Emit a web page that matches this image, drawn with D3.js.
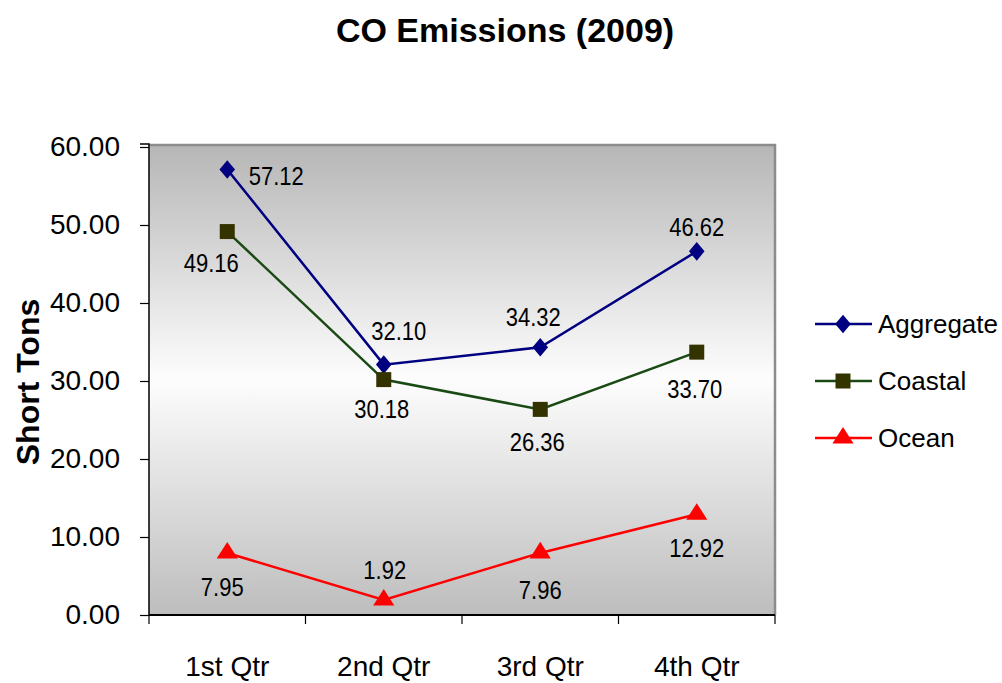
<!DOCTYPE html>
<html><head><meta charset="utf-8">
<script src="https://cdn.jsdelivr.net/npm/d3@7"></script>
<style>body{margin:0;background:#fff;}svg{display:block;font-family:"Liberation Sans",Arial,sans-serif;}</style>
</head><body>
<svg id="chart" width="1002" height="683"></svg>
<script>
const categories = ["1st Qtr","2nd Qtr","3rd Qtr","4th Qtr"];
const aggregate = [57.12, 32.10, 34.32, 46.62];
const coastal = [49.16, 30.18, 26.36, 33.70];
const ocean = [7.95, 1.92, 7.96, 12.92];
const yTicks = [0,10,20,30,40,50,60];
const seriesNames = ["Aggregate","Coastal","Ocean"];
// label centre offsets relative to point
const labelPos = {
  Aggregate: [[49,7],[15,-34],[-7,-30],[0,-24]],
  Coastal: [[-16,31],[-2,29],[-3,33],[-2,37]],
  Ocean: [[-5,34],[1,-30],[0,37],[0,34]]
};

const svg = d3.select("#chart");
const L = 149, R = 775, T = 147, B = 615;
const x = d3.scaleBand().domain(categories).range([L, R]);
const y = d3.scaleLinear().domain([0, 60]).range([B, T]);

const defs = svg.append("defs");
const grad = defs.append("linearGradient").attr("id","bg").attr("x1",0).attr("y1",0).attr("x2",0).attr("y2",1);
grad.append("stop").attr("offset","0%").attr("stop-color","#b6b6b6");
grad.append("stop").attr("offset","50%").attr("stop-color","#fdfdfd");
grad.append("stop").attr("offset","100%").attr("stop-color","#bdbdbd");

svg.append("rect").attr("x", L).attr("y", T-3).attr("width", R-L).attr("height", B-T+3).attr("fill","url(#bg)");
svg.append("line").attr("x1",L).attr("x2",R+1).attr("y1",T-2).attr("y2",T-2).attr("stroke","#8c8c8c").attr("stroke-width",2.5);
svg.append("line").attr("x1",R).attr("x2",R).attr("y1",T-3).attr("y2",B).attr("stroke","#8c8c8c").attr("stroke-width",2.5);

const FONT = "Liberation Sans, Arial, sans-serif";
// y axis
const yAxis = d3.axisLeft(y).tickValues(yTicks).tickFormat(d3.format(".2f")).tickSize(9).tickPadding(20);
const gy = svg.append("g").attr("transform",`translate(${L},0)`).call(yAxis);
gy.select(".domain").attr("stroke","#000").attr("stroke-width",1.5).attr("d",`M-9,${T-3}H0V${B}`);
gy.selectAll(".tick line").attr("stroke","#000").attr("stroke-width",1.2);
gy.selectAll("text").attr("font-size",28).attr("fill","#000").attr("font-family",FONT);

// x axis
const gx = svg.append("g").attr("transform",`translate(0,${B})`);
const xAxis = d3.axisBottom(x).tickSize(0).tickPadding(40);
gx.call(xAxis);
gx.select(".domain").attr("stroke","#000").attr("stroke-width",2).attr("d",`M${L},0H${R}`);
gx.selectAll("text").attr("font-size",28).attr("fill","#000").attr("font-family",FONT).attr("dy",null).attr("y",61);
const bounds = categories.map(c => x(c)).concat([R]);
gx.selectAll(".bt").data(bounds).enter().append("line").attr("class","bt")
  .attr("x1",d=>d).attr("x2",d=>d).attr("y1",0).attr("y2",9).attr("stroke","#000").attr("stroke-width",1.2);

// titles
svg.append("text").attr("x",505).attr("y",42).attr("text-anchor","middle").attr("font-size",34).attr("font-weight","bold").text("CO Emissions (2009)");
svg.append("text").attr("transform","translate(39,382) rotate(-90)").attr("text-anchor","middle").attr("font-size",32).attr("font-weight","bold").text("Short Tons");

const series = [
  {name:"Aggregate", values: aggregate, line:"#000080", fill:"#000080", shape: d3.symbolDiamond, size: 100, sx:1.45},
  {name:"Coastal", values: coastal, line:"#1a4a14", fill:"#333300", shape: d3.symbolSquare, size: 225, sx:1},
  {name:"Ocean", values: ocean, line:"#ff0000", fill:"#ff0000", shape: d3.symbolTriangle, size: 160, sx:1.1}
];

const cx = c => x(c) + x.bandwidth()/2;
const lineGen = d3.line().x((d,i)=>cx(categories[i])).y(d=>y(d));

series.forEach(s => {
  svg.append("path").attr("d", lineGen(s.values)).attr("fill","none").attr("stroke", s.line).attr("stroke-width",2.5);
  s.values.forEach((v,i) => {
    svg.append("path").attr("d", d3.symbol().type(s.shape).size(s.size)())
      .attr("transform",`translate(${cx(categories[i])},${y(v)}) scale(${s.sx},1)`)
      .attr("fill", s.fill);
    const p = labelPos[s.name][i];
    svg.append("text")
      .attr("transform",`translate(${cx(categories[i]) + p[0]},${y(v) + p[1] + 9}) scale(0.88,1)`)
      .attr("text-anchor","middle").attr("font-size",25).attr("fill","#000").text(v.toFixed(2));
  });
});

// legend
const legY = [324, 381, 438];
series.forEach((s,i) => {
  const g = svg.append("g").attr("transform",`translate(815,${legY[i]})`);
  g.append("line").attr("x1",0).attr("x2",57).attr("y1",0).attr("y2",0).attr("stroke",s.line).attr("stroke-width",2.5);
  g.append("path").attr("d", d3.symbol().type(s.shape).size(s.size)()).attr("transform",`translate(28,0) scale(${s.sx},1)`).attr("fill",s.fill);
  g.append("text").attr("x",63).attr("y",9).attr("font-size",26).attr("fill","#000").text(s.name);
});
</script>
</body></html>
